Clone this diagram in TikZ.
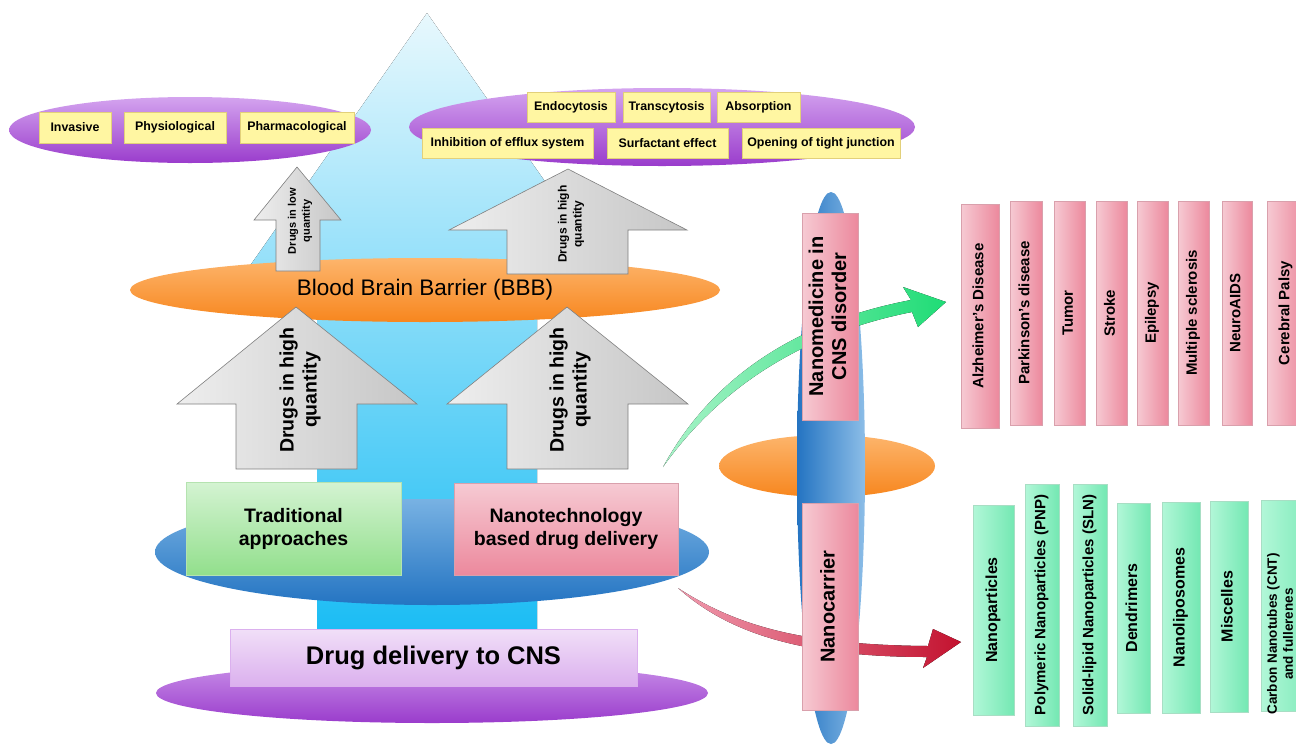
\documentclass[tikz,border=0pt]{standalone}
\usepackage{fontspec}
\setmainfont{Liberation Sans}
\usetikzlibrary{shapes.geometric}

\definecolor{skyTop}{HTML}{E8F8FD}
\definecolor{skyBot}{HTML}{18BCF4}
\definecolor{purpTop}{HTML}{D4A4EF}
\definecolor{purpBot}{HTML}{9A3CCC}
\definecolor{orgTop}{HTML}{FDB56C}
\definecolor{orgBot}{HTML}{F7861E}
\definecolor{blueTop}{HTML}{78B2E3}
\definecolor{blueBot}{HTML}{2474C2}
\definecolor{yelFill}{HTML}{FFF6A2}
\definecolor{yelLine}{HTML}{E2D07A}
\definecolor{pinkL}{HTML}{F6CAD3}
\definecolor{pinkR}{HTML}{EC899D}
\definecolor{pinkLine}{HTML}{D9A0AC}
\definecolor{mintL}{HTML}{B2F7D8}
\definecolor{mintR}{HTML}{74E8B3}
\definecolor{mintLine}{HTML}{A8DEC4}
\definecolor{leafTop}{HTML}{D4F3D2}
\definecolor{leafBot}{HTML}{92DF8C}
\definecolor{leafLine}{HTML}{B5E3B0}
\definecolor{lilacTop}{HTML}{F1DFF8}
\definecolor{lilacBot}{HTML}{DBB0EE}
\definecolor{greyL}{HTML}{EEEEEE}
\definecolor{greyR}{HTML}{C6C6C6}
\definecolor{greenHead}{HTML}{1FDC76}
\definecolor{greenTail}{HTML}{A8F3C8}
\definecolor{redHead}{HTML}{C3122F}
\definecolor{redTail}{HTML}{F09AAE}

\newcommand\vlabel[1]{\rotatebox{90}{\begin{tabular}{@{}c@{}}#1\end{tabular}}}

\begin{document}
\begin{tikzpicture}[x=1pt, y=-1pt,
  every node/.style={inner sep=0pt},
  blob/.style={ellipse, inner sep=0pt},
  chip/.style={draw=yelLine, fill=yelFill, line width=0.6pt, font=\bfseries\fontsize{12.4}{14}\selectfont},
  blockarr/.style={draw=black!50, line width=0.6pt, left color=greyL, right color=greyR},
  arrtext/.style={rotate=90, align=center, font=\bfseries\fontsize{19.5}{23}\selectfont},
  disease/.style={draw=pinkLine, line width=0.6pt, left color=pinkL, right color=pinkR, minimum height=224pt, font=\bfseries\fontsize{15}{17}\selectfont},
  carrier/.style={draw=mintLine, line width=0.6pt, left color=mintL, right color=mintR, font=\bfseries\fontsize{16}{18}\selectfont}]

  \useasboundingbox (0,0) rectangle (1296,745);
  \clip (0,0) rectangle (1296,745);

  % big arrow in the back
  \fill[top color=skyTop, bottom color=skyBot] (427,13) -- (635,310) -- (537,310) -- (537,640) -- (317,640) -- (317,310) -- (219,310) -- cycle;

  % routes
  \node[blob, minimum width=362pt, minimum height=66pt, top color=purpTop, bottom color=purpBot] (routes) at (190,130) {};
  \node[chip, minimum width=72pt, minimum height=31pt] (invasive) at (75,127.5) {Invasive};
  \node[chip, minimum width=102pt, minimum height=31pt] (physio) at (175,127.5) {Physiological};
  \node[chip, minimum width=114pt, minimum height=31pt] (pharma) at (297,127.5) {Pharmacological};

  % mechanisms
  \node[blob, minimum width=506pt, minimum height=78pt, top color=purpTop, bottom color=purpBot] (mech) at (662,127) {};
  \node[chip, minimum width=88pt, minimum height=30pt] (endo) at (571,107) {Endocytosis};
  \node[chip, minimum width=87pt, minimum height=30pt] (trans) at (666.5,107) {Transcytosis};
  \node[chip, minimum width=83pt, minimum height=30pt] (absorp) at (758.5,107) {Absorption};
  \node[chip, minimum width=171pt, minimum height=30pt] (efflux) at (507.5,143) {Inhibition of efflux system};
  \node[chip, minimum width=121pt, minimum height=30pt] (surf) at (667.5,143) {Surfactant effect};
  \node[chip, minimum width=158pt, minimum height=30pt] (tight) at (821,143) {Opening of tight junction};

  % barrier
  \node[blob, minimum width=590pt, minimum height=64pt, top color=orgTop, bottom color=orgBot, font=\fontsize{22.5}{26}\selectfont] (bbb) at (425,290) {Blood Brain Barrier (BBB)};

  \draw[blockarr] (276,271) -- (276,220) -- (254,220) -- (297,167) -- (341,220) -- (320,220) -- (320,271) -- cycle;
  \node[arrtext, font=\bfseries\fontsize{11}{14}\selectfont] (lowtxt) at (300,221) {Drugs in low\\quantity};
  \draw[blockarr] (507,274) -- (507,230) -- (449,230) -- (568,169) -- (687,230) -- (628,230) -- (628,274) -- cycle;
  \node[arrtext, font=\bfseries\fontsize{12}{15}\selectfont] (hightxt) at (571,224) {Drugs in high\\quantity};

  \draw[blockarr] (236,469) -- (236,404) -- (177,404) -- (296,307) -- (417,404) -- (357,404) -- (357,469) -- cycle;
  \node[arrtext] (tradtxt) at (300,390) {Drugs in high\\quantity};
  \draw[blockarr] (507,469) -- (507,404) -- (447,404) -- (567,307) -- (688,404) -- (628,404) -- (628,469) -- cycle;
  \node[arrtext] (nanotxt) at (570,390) {Drugs in high\\quantity};

  % approaches
  \node[blob, minimum width=554pt, minimum height=106pt, top color=blueTop, bottom color=blueBot] (approach) at (432,552) {};
  \node[draw=leafLine, top color=leafTop, bottom color=leafBot, minimum width=215pt, minimum height=93pt, align=center, font=\bfseries\fontsize{19.5}{23}\selectfont] (trad) at (293.5,528.5) {Traditional\\approaches};
  \node[draw=pinkLine, top color=pinkL, bottom color=pinkR, minimum width=224pt, minimum height=92pt, align=center, font=\bfseries\fontsize{19.5}{23}\selectfont] (nanotech) at (566,529) {Nanotechnology\\based drug delivery};

  \node[blob, minimum width=552pt, minimum height=60pt, top color=purpTop!80!purpBot, bottom color=purpBot] (base) at (432,693) {};
  \node[draw=lilacBot, top color=lilacTop, bottom color=lilacBot, minimum width=407pt, minimum height=57pt, font=\bfseries\fontsize{25.5}{30}\selectfont] (cns) at (433.5,657.5) {Drug delivery to CNS};

  % right part
  \node[blob, minimum width=216pt, minimum height=62pt, top color=orgTop, bottom color=orgBot] (hub) at (827,466) {};
  \node[blob, minimum width=68pt, minimum height=552pt, left color=blueBot, right color=blueTop!85] (axis) at (831,468) {};

  \coordinate (gtail) at (663,467);
  \coordinate (gtip) at (946,302);
  \fill[left color=greenTail, right color=greenHead] (gtail) .. controls (705,390) and (780,325) .. (911,300) -- (903,287) -- (gtip) -- (918,327) -- (912,312) .. controls (790,336) and (712,398) .. (gtail) -- cycle;

  \coordinate (rtail) at (678,588);
  \coordinate (rtip) at (961,642);
  \fill[left color=redTail, right color=redHead] (rtail) .. controls (735,625) and (800,645) .. (928,646) -- (933,629) -- (rtip) -- (923,668) -- (927,657) .. controls (795,657) and (725,630) .. (rtail) -- cycle;

  \node[draw=pinkLine, left color=pinkL, right color=pinkR, minimum width=56pt, minimum height=207pt, font=\bfseries\fontsize{20}{23}\selectfont] (nanomed) at (830,316.5) {\vlabel{Nanomedicine in\\CNS disorder}};
  \node[draw=pinkLine, left color=pinkL, right color=pinkR, minimum width=56pt, minimum height=207pt, font=\bfseries\fontsize{20}{23}\selectfont] (nanocar) at (830,606.5) {\vlabel{Nanocarrier}};

  % disorders
  \node[disease, minimum width=38pt] (alz) at (980,316) {\vlabel{Alzheimer's Disease}};
  \node[disease, minimum width=32pt] (park) at (1026,313) {\vlabel{Parkinson's disease}};
  \node[disease, minimum width=31pt] (tumor) at (1069.5,313) {\vlabel{Tumor}};
  \node[disease, minimum width=31pt] (stroke) at (1111.5,313) {\vlabel{Stroke}};
  \node[disease, minimum width=31pt] (epil) at (1152.5,313) {\vlabel{Epilepsy}};
  \node[disease, minimum width=31pt] (ms) at (1193.5,313) {\vlabel{Multiple sclerosis}};
  \node[disease, minimum width=30pt] (naids) at (1237,313) {\vlabel{NeuroAIDS}};
  \node[disease, minimum width=38pt] (palsy) at (1286,313) {\vlabel{Cerebral Palsy}};

  % carriers
  \node[carrier, minimum width=41pt, minimum height=210pt] (np) at (993.5,610) {\vlabel{Nanoparticles}};
  \node[carrier, minimum width=34pt, minimum height=242pt, font=\bfseries\fontsize{15}{17}\selectfont] (pnp) at (1042,605) {\vlabel{Polymeric Nanoparticles (PNP)}};
  \node[carrier, minimum width=34pt, minimum height=242pt, font=\bfseries\fontsize{15}{17}\selectfont] (sln) at (1090,605) {\vlabel{Solid-lipid Nanoparticles (SLN)}};
  \node[carrier, minimum width=33pt, minimum height=210pt] (dend) at (1133.5,608) {\vlabel{Dendrimers}};
  \node[carrier, minimum width=38pt, minimum height=211pt] (lipo) at (1181,607.5) {\vlabel{Nanoliposomes}};
  \node[carrier, minimum width=38pt, minimum height=211pt] (misc) at (1229,606.5) {\vlabel{Miscelles}};
  \node[carrier, minimum width=60pt, minimum height=211pt] (cnt) at (1291,605.5) {};
  \node[rotate=90, align=center, font=\bfseries\fontsize{13.5}{16}\selectfont] (cnttxt) at (1280,634) {Carbon Nanotubes (CNT)\\and fullerenes};

\end{tikzpicture}
\end{document}
